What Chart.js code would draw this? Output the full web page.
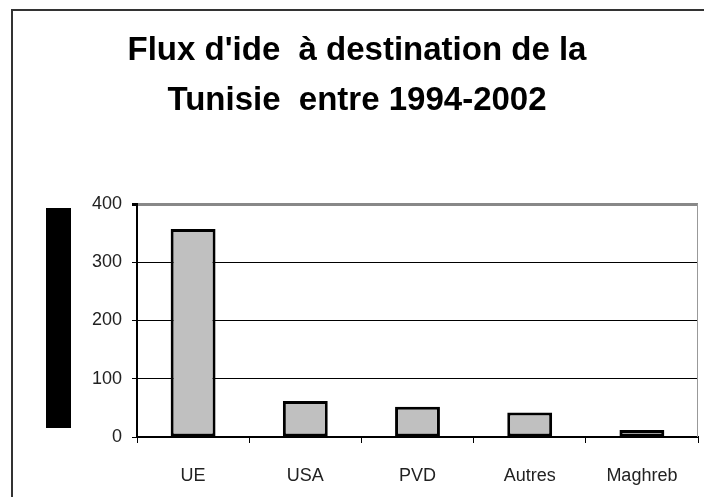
<!DOCTYPE html>
<html>
<head>
<meta charset="utf-8">
<script src="https://cdn.jsdelivr.net/npm/chart.js@4/dist/chart.umd.min.js"></script>
<style>
  html, body { margin: 0; padding: 0; background: #fff; }
  #wrap { width: 704px; height: 497px; }
</style>
</head>
<body>
<div id="wrap"><canvas id="c" width="704" height="497"></canvas></div>
<script>
// Données
const categories = ["UE", "USA", "PVD", "Autres", "Maghreb"];
const flux = [357, 62, 52, 42, 12];
const titre = ["Flux d'ide  à destination de la", "Tunisie  entre 1994-2002"];

// cadre extérieur + bloc noir à gauche + bord droit gris
const cadre = {
  id: 'cadre',
  beforeDraw(chart) {
    const c = chart.ctx, a = chart.chartArea;
    c.save();
    c.fillStyle = '#fff';
    c.fillRect(0, 0, chart.width, chart.height);
    c.strokeStyle = '#333';
    c.lineWidth = 2;
    c.strokeRect(12, 10, chart.width + 20, chart.height + 20);
    c.fillStyle = '#000';
    c.fillRect(46, a.top + 4, 25, a.bottom - a.top - 13);
    c.restore();
  },
  afterDatasetsDraw(chart) {
    const c = chart.ctx, a = chart.chartArea;
    c.save();
    c.strokeStyle = '#999';
    c.lineWidth = 1;
    c.beginPath();
    c.moveTo(a.right - 0.5, a.top);
    c.lineTo(a.right - 0.5, a.bottom);
    c.stroke();
    c.restore();
  }
};

Chart.defaults.font.family = "'Liberation Sans', Arial, sans-serif";
Chart.defaults.color = '#222';

new Chart(document.getElementById('c'), {
  type: 'bar',
  data: {
    labels: categories,
    datasets: [{
      data: flux,
      backgroundColor: '#c0c0c0',
      borderColor: '#000',
      borderWidth: 3,
      borderSkipped: false,
      barPercentage: 0.4,
      categoryPercentage: 1
    }]
  },
  options: {
    responsive: false,
    animation: false,
    layout: { padding: { left: 16, right: 6, top: 0, bottom: 0 } },
    plugins: {
      legend: { display: false },
      tooltip: { enabled: false },
      title: {
        display: true,
        text: titre,
        color: '#000',
        font: { size: 33, weight: 'bold', lineHeight: '50px' },
        padding: { top: 26, bottom: 78 }
      }
    },
    scales: {
      x: {
        afterFit: s => { s.height = 60; },
        grid: { offset: true, drawOnChartArea: false, color: '#000', tickLength: 6, lineWidth: 1 },
        border: { color: '#000', width: 2 },
        ticks: { font: { size: 18 }, color: '#222', padding: 22 }
      },
      y: {
        min: 0, max: 400,
        afterFit: s => { s.width = 121; },
        ticks: { stepSize: 100, font: { size: 18 }, color: '#222', padding: 10 },
        grid: {
          color: ctx => ctx.tick && ctx.tick.value === 400 ? '#888' : '#000',
          lineWidth: ctx => ctx.tick && ctx.tick.value === 400 ? 3 : 1,
          tickColor: '#000',
          tickLength: 5
        },
        border: { color: '#000', width: 2 }
      }
    }
  },
  plugins: [cadre]
});
</script>
</body>
</html>
